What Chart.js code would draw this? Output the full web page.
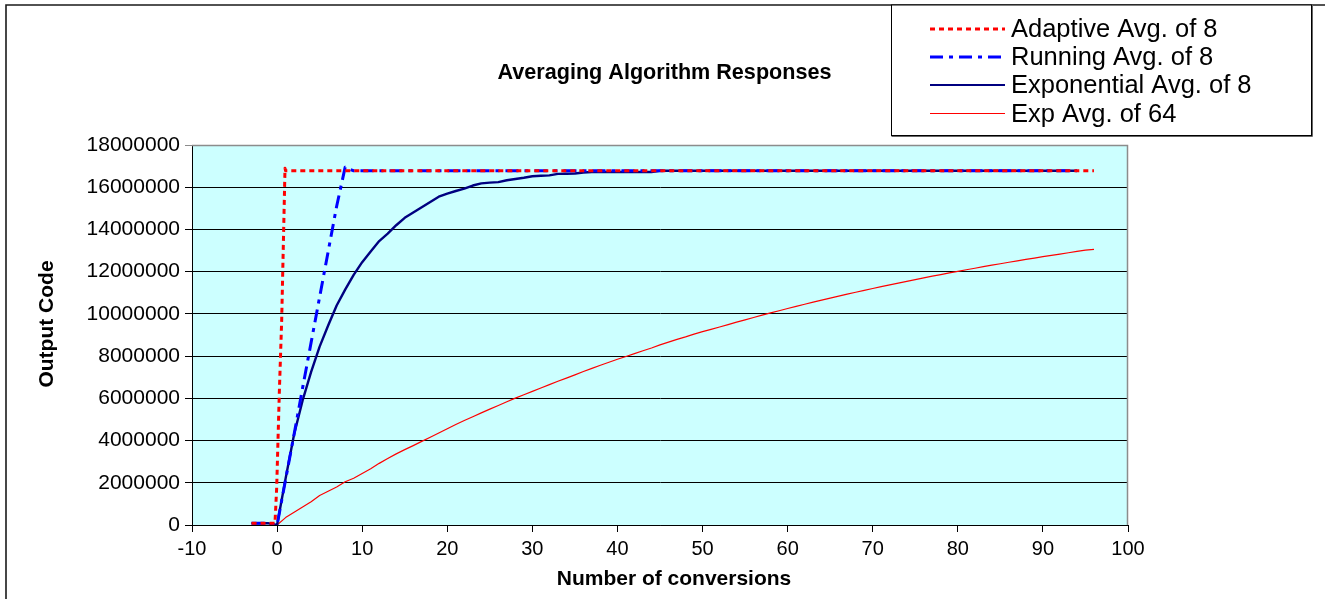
<!DOCTYPE html>
<html>
<head>
<meta charset="utf-8">
<title>Averaging Algorithm Responses</title>
<script src="https://cdn.jsdelivr.net/npm/chart.js@4/dist/chart.umd.min.js"></script>
<style>
  html, body { margin: 0; padding: 0; background: #ffffff; }
  canvas { display: block; }
</style>
</head>
<body>
<canvas id="chart" width="1325" height="599"></canvas>
<script>
// ---- data -------------------------------------------------------------
const chartTitle = 'Averaging Algorithm Responses';
const xAxisTitle = 'Number of conversions';
const yAxisTitle = 'Output Code';
const seriesNames = ['Adaptive Avg. of 8', 'Running Avg. of 8', 'Exponential Avg. of 8', 'Exp Avg. of 64'];

// sample index, shared by the running and exponential averages
const conversions = [
  -3, -2, -1, 0, 1, 2, 3, 4, 5, 6, 7, 8, 9, 10, 11, 12, 13, 14, 15, 16, 17, 18, 19, 20,
  21, 22, 23, 24, 25, 26, 27, 28, 29, 30, 31, 32, 33, 34, 35, 36, 37, 38, 39, 40,
  41, 42, 43, 44, 45, 46, 47, 48, 49, 50, 51, 52, 53, 54, 55, 56, 57, 58, 59, 60,
  61, 62, 63, 64, 65, 66, 67, 68, 69, 70, 71, 72, 73, 74, 75, 76, 77, 78, 79, 80,
  81, 82, 83, 84, 85, 86, 87, 88, 89, 90, 91, 92, 93, 94, 95, 96
];

// the adaptive filter settles within the first conversion
const adaptiveX    = [-3, -2, -1, -0.25, -0.05, 0.26, 0.54, 0.93, 1, 96];
const adaptiveAvg8 = [80000, 80000, 80000, 80000, 1740000, 6240000, 9700000, 16900000, 16777215, 16777215];

const runningAvg8 = [
  80000, 80000, 80000, 0, 2150000, 4300000, 6500000, 8650000, 10800000, 12950000, 15100000, 16950000,
  16777215, 16777215, 16777215, 16777215, 16777215, 16777215, 16777215, 16777215, 16777215, 16777215,
  16777215, 16777215, 16777215, 16777215, 16777215, 16777215, 16777215, 16777215, 16777215, 16777215,
  16777215, 16777215, 16777215, 16777215, 16777215, 16777215, 16777215, 16777215, 16777215, 16777215,
  16777215, 16777215, 16777215, 16777215, 16777215, 16777215, 16777215, 16777215, 16777215, 16777215,
  16777215, 16777215, 16777215, 16777215, 16777215, 16777215, 16777215, 16777215, 16777215, 16777215,
  16777215, 16777215, 16777215, 16777215, 16777215, 16777215, 16777215, 16777215, 16777215, 16777215,
  16777215, 16777215, 16777215, 16777215, 16777215, 16777215, 16777215, 16777215, 16777215, 16777215,
  16777215, 16777215, 16777215, 16777215, 16777215, 16777215, 16777215, 16777215, 16777215, 16777215,
  16777215, 16777215, 16777215, 16777215, 16777215, 16777215
];

const expAvg8 = [
  80000, 80000, 80000, 0, 2200000, 4300000, 5900000, 7250000, 8450000, 9450000, 10400000, 11150000,
  11850000, 12450000, 12950000, 13450000, 13800000, 14200000, 14550000, 14800000, 15050000, 15300000,
  15550000, 15700000, 15820000, 15930000, 16080000, 16180000, 16220000, 16240000, 16330000, 16390000,
  16450000, 16520000, 16540000, 16560000, 16630000, 16640000, 16650000, 16700000, 16720000, 16720000,
  16720000, 16720000, 16720000, 16720000, 16720000, 16720000, 16777215, 16777215, 16777215, 16777215,
  16777215, 16777215, 16777215, 16777215, 16777215, 16777215, 16777215, 16777215, 16777215, 16777215,
  16777215, 16777215, 16777215, 16777215, 16777215, 16777215, 16777215, 16777215, 16777215, 16777215,
  16777215, 16777215, 16777215, 16777215, 16777215, 16777215, 16777215, 16777215, 16777215, 16777215,
  16777215, 16777215, 16777215, 16777215, 16777215, 16777215, 16777215, 16777215, 16777215, 16777215,
  16777215, 16777215, 16777215, 16777215, 16777215, 16777215
];

const expAvg64 = [
  80000, 80000, 80000, 0, 350000, 600000, 850000, 1100000, 1400000, 1600000, 1800000, 2050000,
  2216000, 2444000, 2668000, 2920000, 3150000, 3370000, 3570000, 3760000, 3960000, 4160000,
  4360000, 4560000, 4760000, 4950000, 5130000, 5310000, 5490000, 5660000, 5840000, 6010000,
  6170000, 6330000, 6490000, 6650000, 6810000, 6960000, 7110000, 7270000, 7420000, 7570000,
  7710000, 7850000, 7980000, 8117000, 8252000, 8386000, 8530000, 8660000, 8790000, 8910000,
  9040000, 9160000, 9270000, 9379000, 9494000, 9608000, 9720000, 9830000, 9939000, 10045000,
  10150000, 10254000, 10356000, 10456000, 10555000, 10652000, 10748000, 10842000, 10935000, 11026000,
  11116000, 11204000, 11291000, 11377000, 11461000, 11544000, 11626000, 11706000, 11786000, 11864000,
  11940000, 12016000, 12090000, 12163000, 12235000, 12306000, 12376000, 12445000, 12512000, 12579000,
  12645000, 12709000, 12773000, 12835000, 12897000, 12957000, 13017000, 13060000
];

const xTicks = { min: -10, max: 100, step: 10 };
const yTicks = { min: 0, max: 18000000, step: 2000000 };

// ---- helpers ----------------------------------------------------------
function toPoints(xs, ys) {
  return xs.map((x, i) => ({ x: x, y: ys[i] }));
}

const FONT = '"Liberation Sans", Arial, sans-serif';

// Plot background, outer frame and plot border
const framePlugin = {
  id: 'frame',
  beforeDraw(chart) {
    const { ctx, chartArea: a, width, height } = chart;
    ctx.save();
    ctx.fillStyle = '#ffffff';
    ctx.fillRect(0, 0, width, height);
    ctx.fillStyle = '#ccffff';
    ctx.fillRect(a.left, a.top, a.right - a.left, a.bottom - a.top);
    // outer chart frame (top and left edges)
    ctx.strokeStyle = '#1a1a1a';
    ctx.lineWidth = 1.6;
    ctx.beginPath();
    ctx.moveTo(width, 5);
    ctx.lineTo(6, 5);
    ctx.lineTo(6, height);
    ctx.stroke();
    ctx.restore();
  },
  beforeDatasetsDraw(chart) {
    const { ctx, chartArea: a } = chart;
    ctx.save();
    ctx.strokeStyle = '#8c8c8c';
    ctx.lineWidth = 1.5;
    ctx.beginPath();
    ctx.moveTo(a.left, a.top + 0.5);
    ctx.lineTo(a.right - 0.5, a.top + 0.5);
    ctx.lineTo(a.right - 0.5, a.bottom);
    ctx.stroke();
    ctx.restore();
  }
};

// Chart title, axis titles and boxed legend
const labelsPlugin = {
  id: 'labels',
  afterDraw(chart) {
    const { ctx } = chart;
    ctx.save();
    ctx.fillStyle = '#000000';
    ctx.textAlign = 'center';
    ctx.textBaseline = 'middle';

    ctx.font = 'bold 21.6px ' + FONT;
    ctx.fillText(chartTitle, 664.5, 73);

    ctx.font = 'bold 21px ' + FONT;
    ctx.fillText(xAxisTitle, 674, 579);

    ctx.save();
    ctx.translate(47, 324);
    ctx.rotate(-Math.PI / 2);
    ctx.fillText(yAxisTitle, 0, 0);
    ctx.restore();

    // legend box
    const box = { left: 891.5, top: 5, right: 1311.5, bottom: 135.5 };
    ctx.fillStyle = '#ffffff';
    ctx.fillRect(box.left, box.top, box.right - box.left, box.bottom - box.top);
    ctx.strokeStyle = '#000000';
    ctx.lineWidth = 1;
    ctx.strokeRect(box.left, box.top, box.right - box.left, box.bottom - box.top);
    ctx.strokeStyle = '#666666';
    ctx.beginPath();
    ctx.moveTo(box.right + 1, box.top);
    ctx.lineTo(box.right + 1, box.bottom + 1);
    ctx.lineTo(box.left, box.bottom + 1);
    ctx.stroke();

    const rowY = [29, 57, 85, 113.5];
    ctx.textAlign = 'left';
    ctx.font = '25.5px ' + FONT;
    chart.data.datasets.forEach((ds, i) => {
      const y = rowY[i];
      ctx.save();
      ctx.strokeStyle = ds.borderColor;
      ctx.lineWidth = ds.legendWidth;
      ctx.setLineDash(ds.legendDash);
      ctx.beginPath();
      ctx.moveTo(930, y);
      ctx.lineTo(1005, y);
      ctx.stroke();
      ctx.restore();
      ctx.fillStyle = '#000000';
      ctx.fillText(ds.label, 1011, y + 1);
    });
    ctx.restore();
  }
};

// ---- chart ------------------------------------------------------------
new Chart(document.getElementById('chart'), {
  type: 'line',
  data: {
    datasets: [
      {
        label: seriesNames[0],
        data: toPoints(adaptiveX, adaptiveAvg8),
        borderColor: '#ff0000',
        borderWidth: 3,
        borderDash: [5, 4],
        legendDash: [5, 4],
        legendWidth: 3
      },
      {
        label: seriesNames[1],
        data: toPoints(conversions, runningAvg8),
        borderColor: '#0000ff',
        borderWidth: 3,
        borderDash: [13, 6, 4, 6],
        legendDash: [13, 6, 4, 6],
        legendWidth: 3
      },
      {
        label: seriesNames[2],
        data: toPoints(conversions, expAvg8),
        borderColor: '#000080',
        borderWidth: 2.4,
        legendDash: [],
        legendWidth: 2
      },
      {
        label: seriesNames[3],
        data: toPoints(conversions, expAvg64),
        borderColor: '#ff0000',
        borderWidth: 1.2,
        legendDash: [],
        legendWidth: 1
      }
    ]
  },
  options: {
    responsive: false,
    animation: false,
    devicePixelRatio: 1,
    parsing: true,
    elements: {
      point: { radius: 0, hoverRadius: 0 },
      line: { tension: 0, fill: false, borderCapStyle: 'butt', borderJoinStyle: 'round' }
    },
    layout: { padding: { top: 145, right: 197, left: 0, bottom: 0 } },
    plugins: {
      legend: { display: false },
      title: { display: false },
      tooltip: { enabled: false }
    },
    scales: {
      x: {
        type: 'linear',
        min: xTicks.min,
        max: xTicks.max,
        afterFit(scale) { scale.height = 74; },
        ticks: {
          stepSize: xTicks.step,
          color: '#000000',
          font: { family: FONT, size: 20 },
          padding: 5,
          maxRotation: 0,
          callback: v => String(v)
        },
        grid: {
          drawOnChartArea: false,
          drawTicks: true,
          tickLength: 7,
          color: '#000000'
        },
        border: { display: true, color: '#000000', width: 1 }
      },
      y: {
        type: 'linear',
        min: yTicks.min,
        max: yTicks.max,
        afterFit(scale) { scale.width = 192; },
        ticks: {
          stepSize: yTicks.step,
          color: '#000000',
          font: { family: FONT, size: 21 },
          padding: 5,
          callback: v => String(v)
        },
        grid: {
          drawTicks: true,
          tickLength: 7,
          lineWidth: 1,
          color: c => (c.tick && c.tick.value === yTicks.max ? '#8c8c8c' : '#000000')
        },
        border: { display: true, color: '#000000', width: 1 }
      }
    }
  },
  plugins: [framePlugin, labelsPlugin]
});
</script>
</body>
</html>
